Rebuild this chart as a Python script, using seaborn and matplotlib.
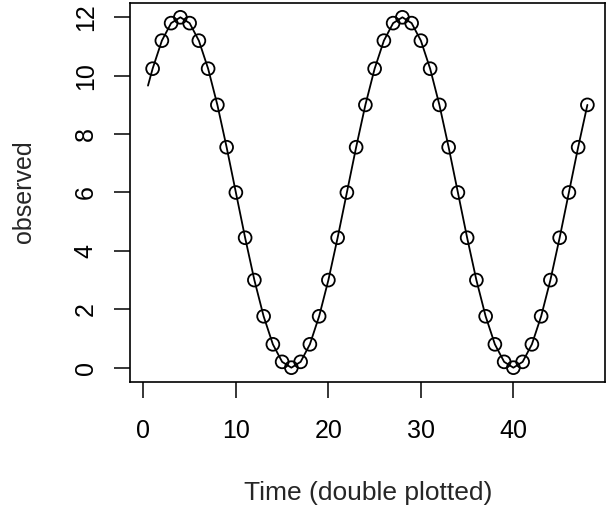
import matplotlib
matplotlib.use("Agg")
import matplotlib.pyplot as plt
import seaborn as sns
import pandas as pd

# Data
time = list(range(1, 49))
observed = [10.24, 11.2, 11.8, 12.0, 11.8, 11.2, 10.24, 9.0, 7.55, 6.0, 4.45, 3.0,
            1.76, 0.8, 0.2, 0.0, 0.2, 0.8, 1.76, 3.0, 4.45, 6.0, 7.55, 9.0,
            10.24, 11.2, 11.8, 12.0, 11.8, 11.2, 10.24, 9.0, 7.55, 6.0, 4.45, 3.0,
            1.76, 0.8, 0.2, 0.0, 0.2, 0.8, 1.76, 3.0, 4.45, 6.0, 7.55, 9.0]
fit_time = [0.5] + time
fit_values = [9.66] + observed
x_ticks = [0, 10, 20, 30, 40]
y_ticks = [0, 2, 4, 6, 8, 10, 12]

sns.set_style("ticks")
plt.rcParams['font.family'] = ['Liberation Sans', 'DejaVu Sans']

df = pd.DataFrame({"time": time, "observed": observed})
fit = pd.DataFrame({"time": fit_time, "value": fit_values})

fig = plt.figure(figsize=(6.14, 5.12), dpi=100)
ax = fig.add_axes([0.2124, 0.2545, 0.9853 - 0.2124, 0.9936 - 0.2545])

sns.lineplot(data=fit, x="time", y="value", ax=ax, color="black", linewidth=1.3,
             sort=False, estimator=None)
sns.scatterplot(data=df, x="time", y="observed", ax=ax, s=85, facecolor="none",
                edgecolor="black", linewidth=1.3, marker="o", zorder=3)

ax.set_xlim(-1.4, 49.9)
ax.set_ylim(-0.48, 12.48)
ax.set_xticks(x_ticks)
ax.set_xticklabels([str(v) for v in x_ticks])
ax.set_yticks(y_ticks)
ax.set_yticklabels([str(v) for v in y_ticks], rotation=90, va="center")
ax.tick_params(axis="both", length=11.5, width=1.1, labelsize=18, color="black",
               labelcolor="black")
ax.tick_params(axis="x", pad=15)
ax.tick_params(axis="y", pad=12)
for s in ax.spines.values():
    s.set_visible(True)
    s.set_linewidth(1.2)
    s.set_color("black")
ax.set_xlabel("")
ax.set_ylabel("")

fig.text(368 / 614, 1 - 493 / 512, "Time (double plotted)", ha="center", va="center", fontsize=19)
fig.text(24 / 614, 1 - 192 / 512, "observed", ha="center", va="center", rotation=90, fontsize=18)

fig.savefig("out.png", dpi=100)
